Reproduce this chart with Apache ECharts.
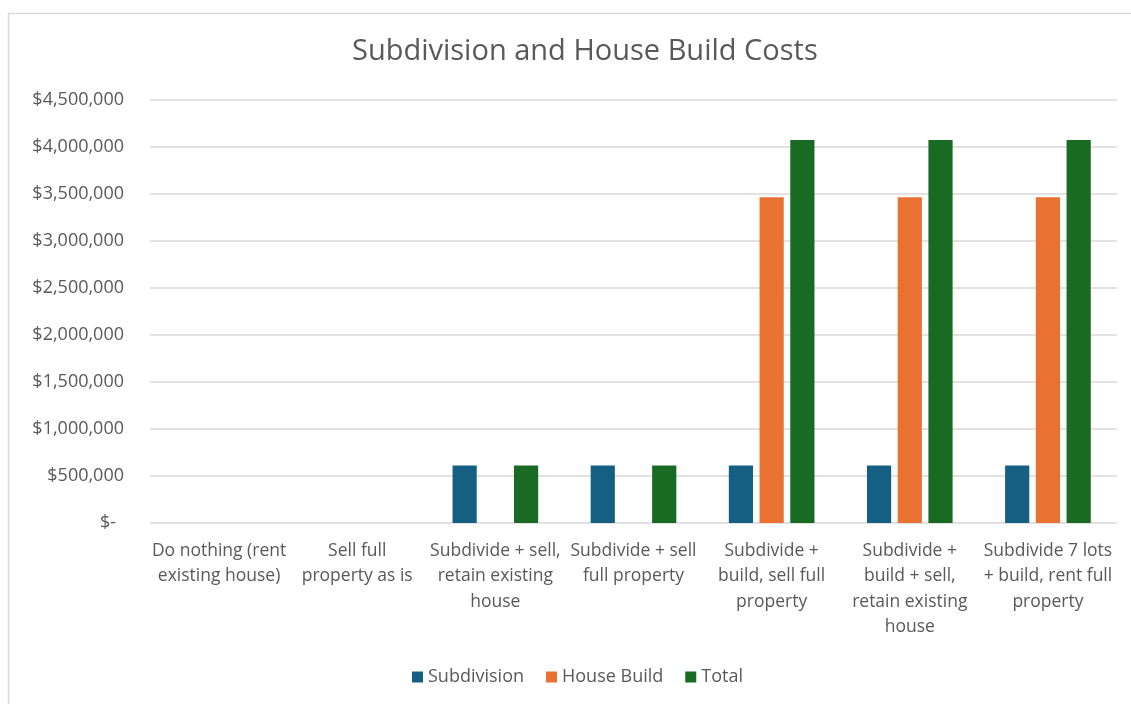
<!DOCTYPE html>
<html>
<head>
<meta charset="utf-8">
<script src="https://cdn.jsdelivr.net/npm/echarts@6/dist/echarts.min.js"></script>
<style>
  html, body { margin: 0; padding: 0; background: #fff; }
  #chart { width: 1131px; height: 704px; }
</style>
</head>
<body>
<div id="chart"></div>
<script>
// Scenario names (line breaks as shown under each group)
const categories = [
  'Do nothing (rent\nexisting house)',
  'Sell full\nproperty as is',
  'Subdivide + sell,\nretain existing\nhouse',
  'Subdivide + sell\nfull property',
  'Subdivide +\nbuild, sell full\nproperty',
  'Subdivide +\nbuild + sell,\nretain existing\nhouse',
  'Subdivide 7 lots\n+ build, rent full\nproperty'
];

// Costs per scenario, in dollars
const subdivision = [0, 0, 612000, 612000, 612000, 612000, 612000];
const houseBuild  = [0, 0, 0, 0, 3465000, 3465000, 3465000];
const total       = [0, 0, 612000, 612000, 4075000, 4075000, 4075000];

const seriesNames = ['Subdivision', 'House Build', 'Total'];
const colors = ['#156082', '#E97132', '#196B24'];

const FONT = '"Open Sans", Lato, sans-serif';
const TEXT = '#595959';

function money(v) {
  if (v === 0) return '{z|$-}';
  return '$' + v.toLocaleString('en-US');
}

const chart = echarts.init(document.getElementById('chart'), null, { renderer: 'canvas' });

chart.setOption({
  animation: false,
  backgroundColor: '#ffffff',
  textStyle: { fontFamily: FONT, color: TEXT },
  title: {
    text: 'Subdivision and House Build Costs',
    left: 347,
    top: 32,
    textStyle: { fontFamily: FONT, fontSize: 29, fontWeight: 'normal', color: TEXT }
  },
  graphic: [{
    type: 'rect',
    shape: { x: 8.5, y: 13.5, width: 1140, height: 720 },
    style: { fill: 'none', stroke: '#D9D9D9', lineWidth: 1.5 },
    silent: true,
    z: -1
  }],
  legend: {
    bottom: 13,
    left: 407,
    itemWidth: 11,
    itemHeight: 11,
    itemGap: 22,
    icon: 'rect',
    textStyle: { fontFamily: FONT, fontSize: 18, color: TEXT },
    data: seriesNames
  },
  grid: { left: 150, right: 14, top: 100, bottom: 181 },
  xAxis: {
    type: 'category',
    data: categories,
    axisLine: { show: false },
    axisTick: { show: false },
    axisLabel: {
      interval: 0,
      margin: 15,
      fontFamily: FONT,
      fontSize: 17.5,
      lineHeight: 25.5,
      color: TEXT,
      align: 'center'
    }
  },
  yAxis: {
    type: 'value',
    min: 0,
    max: 4500000,
    interval: 500000,
    axisLine: { show: false },
    axisTick: { show: false },
    splitLine: { lineStyle: { color: '#D9D9D9', width: 1.5 } },
    axisLabel: {
      margin: 26,
      fontFamily: FONT,
      fontSize: 18,
      color: TEXT,
      formatter: money,
      rich: { z: { fontFamily: FONT, fontSize: 18, color: TEXT, padding: [0, 8, 0, 0] } }
    }
  },
  series: [
    { name: seriesNames[0], type: 'bar', data: subdivision, itemStyle: { color: colors[0] }, barGap: '27%', barCategoryGap: '38%' },
    { name: seriesNames[1], type: 'bar', data: houseBuild, itemStyle: { color: colors[1] } },
    { name: seriesNames[2], type: 'bar', data: total, itemStyle: { color: colors[2] } }
  ]
});
</script>
</body>
</html>
